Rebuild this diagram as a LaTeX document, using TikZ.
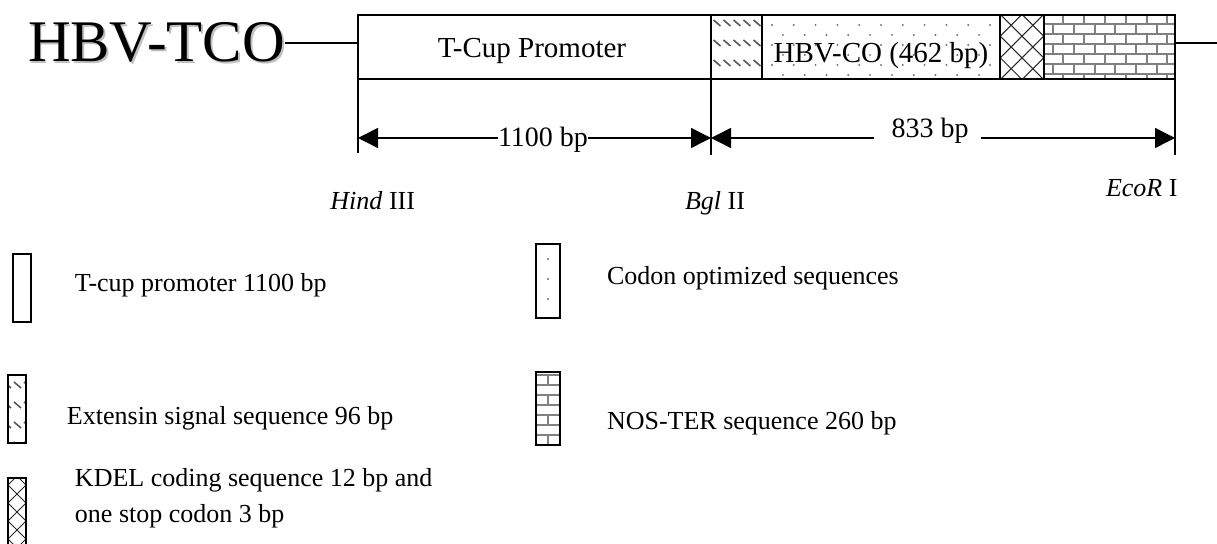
\documentclass[tikz,border=0pt]{standalone}
\usepackage{fontspec}
\setmainfont{Liberation Serif}
\usepackage{tikz}
\usetikzlibrary{arrows.meta,positioning}

\begin{document}
\begin{tikzpicture}[x=0.5pt, y=-0.5pt,
    every node/.style={inner sep=0pt, outer sep=0pt},
    titletxt/.style={anchor=base west, font=\fontsize{29.5}{34}\selectfont},
    boxtxt/.style={anchor=base, font=\fontsize{14.5}{17}\selectfont},
    dimtxt/.style={anchor=base, font=\fontsize{14}{17}\selectfont},
    enz/.style={font=\fontsize{13}{16}\selectfont},
    legtxt/.style={anchor=base west, font=\fontsize{13}{16}\selectfont},
    seg/.style={draw, line width=0.75pt, minimum height=32pt, anchor=north west},
    legbox/.style={draw, line width=0.9pt, anchor=north west},
    lead/.style={line width=0.75pt},
    dimarrow/.style={line width=0.75pt, -{Triangle[length=10pt, width=10pt]}},
    % fills are laid out from the centre of the box
    extfill/.style={path picture={
        \foreach \r in {-2,...,2}
          \foreach \c in {-3,...,3}
            \draw[gray!70!black, line width=0.8pt]
                (10*\c-3, 20*\r-7) -- ++(7,6);
        }},
    dotfill/.style 2 args={path picture={
        \foreach \r in {0,...,8}
          \foreach \c in {-6,...,6}
            \fill[gray!90!black] ({#1*\c + mod(\r,2)*#1/2 + #2}, 10*\r-42) circle (1.1);
        }},
    crossfill/.style 2 args={path picture={
        \foreach \k in {-6,...,6} {
            \draw[black!85, line width=0.5pt] (#1*\k+#2, 0) -- ++(90,90) (#1*\k+#2, 0) -- ++(-90,-90);
            \draw[black!85, line width=0.5pt] (#1*\k+#2, 0) -- ++(-90,90) (#1*\k+#2, 0) -- ++(90,-90);
        }
        }},
    brickfill/.style 2 args={path picture={
        \foreach \r in {0,...,8} {
            \draw[gray, line width=1pt] (-100, 10*\r-43) -- (100, 10*\r-43);
            \foreach \c in {-5,...,5}
                \draw[gray, line width=1pt]
                    ({#1*\c + mod(\r+1,2)*#1/2 + #2}, 10*\r-43) -- ++(0,10);
        }
        }}
]
\useasboundingbox (0,0) rectangle (1217,544);

% construct
\node[titletxt, text=gray!50] (titleshade) at (30,64) {HBV-TCO};
\node[titletxt] (title) at (28,62) {HBV-TCO};
\node[seg, minimum width=176.5pt] (prom) at (358,15) {};
\node[seg, extfill, minimum width=25.5pt, right=0pt of prom] (ext) {};
\node[seg, dotfill={21.8}{0}, minimum width=119pt, right=0pt of ext] (codon) {};
\node[seg, crossfill={21.7}{10.85}, minimum width=22pt, right=0pt of codon] (kdel) {};
\node[seg, brickfill={20.8}{-4.5}, minimum width=65.5pt, right=0pt of kdel] (nos) {};
\node[boxtxt] (promtxt) at (532,58) {T-Cup Promoter};
\node[boxtxt] (codontxt) at (881,63) {HBV-CO (462 bp)};
\coordinate (tail) at (1217,43);
\draw[lead] (title.east) -- (title.east -| prom.west);
\draw[lead] (nos.east |- tail) -- (tail);

% sites and lengths
\coordinate (hindtick) at (358,153);
\coordinate (bgltick) at (711,155);
\coordinate (ecotick) at (1175,155);
\coordinate (dimrow) at (0,138);
\draw[lead] (prom.south west) -- (hindtick);
\draw[lead] (ext.south west) -- (bgltick);
\draw[lead] (nos.south east) -- (ecotick);
\node[dimtxt] (len1) at (543,147) {1100 bp};
\node[dimtxt] (len2) at (930,138) {833 bp};
\draw[dimarrow] (len1.west |- dimrow) -- (hindtick |- dimrow);
\draw[dimarrow] (len1.east |- dimrow) -- (bgltick |- dimrow);
\draw[dimarrow] ([xshift=-9pt]len2.west |- dimrow) -- (bgltick |- dimrow);
\draw[dimarrow] ([xshift=6pt]len2.east |- dimrow) -- (ecotick |- dimrow);
\node[enz, anchor=base east] (hind) at (415,210) {\textit{Hind} III};
\node[enz, anchor=base west] (bgl) at (685,210) {\textit{Bgl} II};
\node[enz, anchor=base west] (eco) at (1106,197) {\textit{EcoR} I};

% legend
\node[legbox, minimum width=9pt, minimum height=34pt] (lprom) at (13,254) {};
\node[legtxt] (lpromtxt) at (75,292) {T-cup promoter 1100 bp};
\node[legbox, extfill, minimum width=9pt, minimum height=34pt] (lext) at (8,375) {};
\node[legtxt] (lexttxt) at (67,425) {Extensin signal sequence 96 bp};
\node[legbox, crossfill={18}{0}, minimum width=9pt, minimum height=34pt] (lkdel) at (8,478) {};
\node[legtxt] (lkdeltxt) at (75,487) {KDEL coding sequence 12 bp and};
\node[legtxt] (lkdeltxtb) at (75,523) {one stop codon 3 bp};
\node[legbox, dotfill={24}{0}, minimum width=12pt, minimum height=37pt] (lcodon) at (536,244) {};
\node[legtxt] (lcodontxt) at (607,285) {Codon optimized sequences};
\node[legbox, brickfill={24}{0}, minimum width=12pt, minimum height=36.5pt] (lnos) at (536,372) {};
\node[legtxt] (lnostxt) at (607,430) {NOS-TER sequence 260 bp};
\end{tikzpicture}
\end{document}
